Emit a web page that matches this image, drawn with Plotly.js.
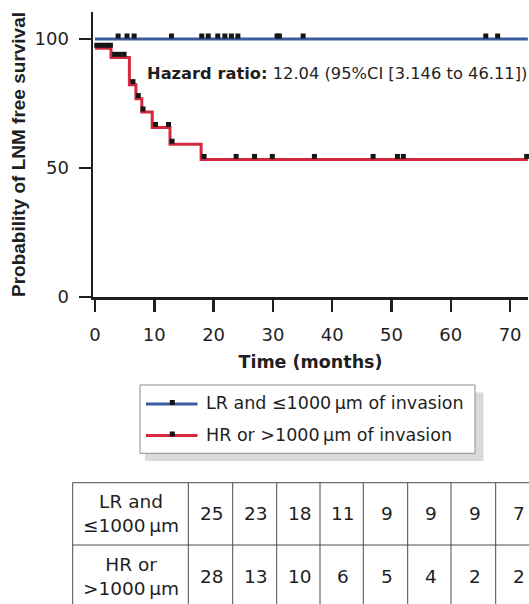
<!DOCTYPE html>
<html><head><meta charset="utf-8">
<script src="https://cdn.plot.ly/plotly-3.0.1.min.js"></script>
<style>html,body{margin:0;padding:0;background:#fff;} #chart{width:529px;height:604px;}</style>
</head><body><div id="chart"></div>
<script>
// ---------- data ----------
const seriesNames = ['LR and \u22641000\u2009\u00b5m of invasion', 'HR or >1000\u2009\u00b5m of invasion'];
const lrStepTimes = [0];
const lrStepSurvival = [100];
const lrCensorTimes = [3.9, 5.4, 6.6, 12.9, 18.0, 19.1, 20.7, 21.9, 23.0, 24.1, 30.7, 31.1, 35.1, 65.9, 67.9];
const hrStepTimes = [0, 2.7, 5.8, 6.9, 7.9, 9.65, 12.65, 17.9];
const hrStepSurvival = [96.4, 92.9, 82.3, 76.9, 71.7, 65.7, 59.2, 53.3];
const hrCensorTimes = [0.3, 1.1, 1.9, 2.6, 3.3, 4.1, 4.9, 6.4, 7.3, 8.1, 10.2, 12.4, 13.0, 18.4, 23.8, 26.9, 29.9, 37.0, 46.9, 51.0, 52.0, 72.8];
const followUpEnd = 73;
const xTickVals = [0, 10, 20, 30, 40, 50, 60, 70];
const yTickVals = [0, 50, 100];
const riskRowLabels = ['LR and<br>\u22641000\u2009\u00b5m', 'HR or<br>>1000\u2009\u00b5m'];
const riskLR = [25, 23, 18, 11, 9, 9, 9, 7];
const riskHR = [28, 13, 10, 6, 5, 4, 2, 2];
const hazardLabel = 'Hazard ratio:';
const hazardValue = '12.04 (95%CI [3.146 to 46.11])';
const xTitle = 'Time (months)';
const yTitle = 'Probability of LNM free survival';

// ---------- styles ----------
const BLUE = '#3a5c9f', RED = '#d3283e', INK = '#1f1f1f';
const FONT = 'DejaVu Sans, sans-serif';
const PL = 93, PT = 12, PW = 435, PH = 285;
const px2x = p => (p - PL) / PW;
const py2y = p => (PT + PH - p) / PH;
const markerLift = 1.2;

function stepXY(times, surv, end) {
  return { x: times.concat([end]), y: surv.concat([surv[surv.length - 1]]) };
}
function survivalAt(times, surv, t) {
  let v = surv[0];
  for (let i = 0; i < times.length; i++) if (times[i] <= t) v = surv[i];
  return v;
}

const lr = stepXY(lrStepTimes, lrStepSurvival, followUpEnd);
const hr = stepXY(hrStepTimes, hrStepSurvival, followUpEnd);

const traces = [
  { x: lr.x, y: lr.y, mode: 'lines', line: { shape: 'hv', color: BLUE, width: 3 }, name: seriesNames[0], showlegend: false },
  { x: hr.x, y: hr.y, mode: 'lines', line: { shape: 'hv', color: RED, width: 3 }, name: seriesNames[1], showlegend: false },
  { x: lrCensorTimes, y: lrCensorTimes.map(t => survivalAt(lrStepTimes, lrStepSurvival, t) + markerLift), mode: 'markers',
    marker: { symbol: 'square', size: 5, color: '#161616' }, showlegend: false, cliponaxis: false },
  { x: hrCensorTimes, y: hrCensorTimes.map(t => survivalAt(hrStepTimes, hrStepSurvival, t) + markerLift), mode: 'markers',
    marker: { symbol: 'square', size: 5, color: '#161616' }, showlegend: false, cliponaxis: false }
];

const shapes = [];
const annotations = [];

// hazard ratio text
annotations.push({ xref: 'paper', yref: 'paper', x: px2x(145), y: py2y(73), xanchor: 'left', yanchor: 'middle',
  text: '<b>' + hazardLabel + '</b> ' + hazardValue, showarrow: false, font: { family: FONT, size: 16.3, color: INK } });

// legend (box with shadow)
shapes.push({ type: 'rect', xref: 'paper', yref: 'paper', x0: px2x(145), x1: px2x(483.5), y0: py2y(392.5), y1: py2y(461), fillcolor: '#d9d9d9', line: { width: 0 } });
shapes.push({ type: 'rect', xref: 'paper', yref: 'paper', x0: px2x(140), x1: px2x(475), y0: py2y(385), y1: py2y(453.3), fillcolor: '#ffffff', line: { width: 1, color: '#8c8c8c' } });
const legendRows = [404, 435.5];
[BLUE, RED].forEach((c, i) => {
  const yy = legendRows[i];
  shapes.push({ type: 'line', xref: 'paper', yref: 'paper', x0: px2x(146), x1: px2x(197.5), y0: py2y(yy), y1: py2y(yy), line: { color: c, width: 3 } });
  shapes.push({ type: 'rect', xref: 'paper', yref: 'paper', x0: px2x(169.8), x1: px2x(174.8), y0: py2y(yy - 4), y1: py2y(yy + 1), fillcolor: '#161616', line: { width: 0 } });
  annotations.push({ xref: 'paper', yref: 'paper', x: px2x(204), y: py2y(yy - 1), xanchor: 'left', yanchor: 'middle',
    text: seriesNames[i], showarrow: false, font: { family: FONT, size: 17.5, color: INK } });
});

// number-at-risk table
const tblLeft = 72.7, tblRight = 560;
const colEdges = [188.3, 232.7, 276.7, 320, 363.3, 407.7, 451, 495.7, 540];
const rowEdges = [482.7, 545, 607.3];
const gridColor = '#4a4a4a';
rowEdges.forEach(r => shapes.push({ type: 'line', xref: 'paper', yref: 'paper', x0: px2x(tblLeft), x1: px2x(tblRight), y0: py2y(r), y1: py2y(r), line: { color: gridColor, width: 1 } }));
[tblLeft].concat(colEdges).forEach(c => shapes.push({ type: 'line', xref: 'paper', yref: 'paper', x0: px2x(c), x1: px2x(c), y0: py2y(rowEdges[0]), y1: py2y(rowEdges[2]), line: { color: gridColor, width: 1 } }));
[riskLR, riskHR].forEach((row, r) => {
  const yc = (rowEdges[r] + rowEdges[r + 1]) / 2;
  annotations.push({ xref: 'paper', yref: 'paper', x: px2x((tblLeft + colEdges[0]) / 2), y: py2y(yc), xanchor: 'center', yanchor: 'middle',
    text: riskRowLabels[r], showarrow: false, align: 'center', font: { family: FONT, size: 18.5, color: INK } });
  row.forEach((v, j) => {
    annotations.push({ xref: 'paper', yref: 'paper', x: px2x((colEdges[j] + colEdges[j + 1]) / 2 + 1.5), y: py2y(yc), xanchor: 'center', yanchor: 'middle',
      text: String(v), showarrow: false, font: { family: FONT, size: 18.5, color: INK } });
  });
});

const axisCommon = { showgrid: false, zeroline: false, showline: true, linewidth: 2.5, linecolor: INK,
  ticks: 'outside', ticklen: 12, tickwidth: 2.5, tickcolor: INK, tickfont: { family: FONT, size: 18, color: INK }, fixedrange: true };

const layout = {
  width: 529, height: 604,
  margin: { l: PL, r: 529 - PL - PW, t: PT, b: 604 - PT - PH, pad: 0 },
  paper_bgcolor: '#ffffff', plot_bgcolor: '#ffffff',
  showlegend: false,
  xaxis: Object.assign({}, axisCommon, { range: [-0.337, 73.02], tickmode: 'array', tickvals: xTickVals, ticklabelstandoff: 8,
    title: { text: '<b>' + xTitle + '</b>', font: { family: FONT, size: 17.5, color: INK }, standoff: 12 } }),
  yaxis: Object.assign({}, axisCommon, { range: [0, 110.5], tickmode: 'array', tickvals: yTickVals, ticklabelstandoff: 6,
    title: { text: '<b>' + yTitle + '</b>', font: { family: 'Liberation Sans, Arial, sans-serif', size: 19, color: INK }, standoff: 4 } }),
  shapes: shapes,
  annotations: annotations
};

Plotly.newPlot('chart', traces, layout, { displayModeBar: false, staticPlot: true });
</script>
</body></html>
